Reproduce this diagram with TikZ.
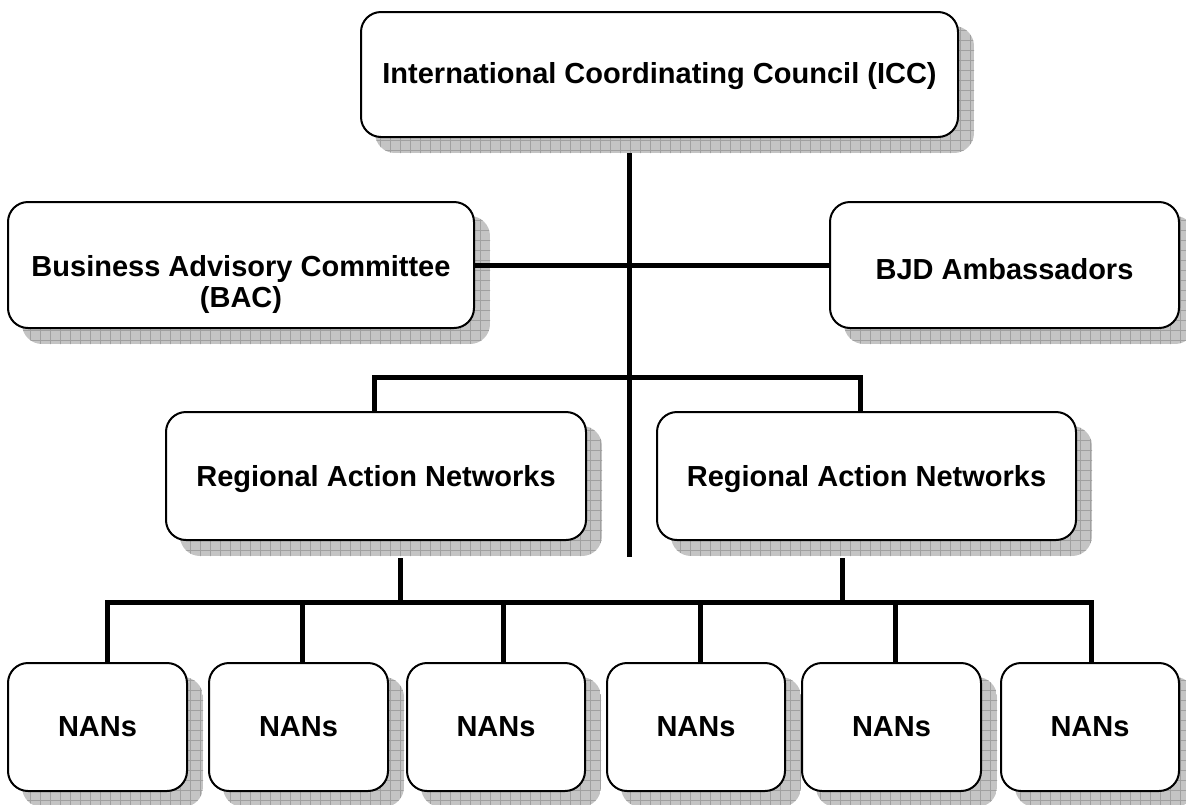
\documentclass[tikz,border=0pt]{standalone}
\usepackage{fontspec}
\setmainfont{Liberation Sans}
\pgfdeclarelayer{shadowlayer}
\pgfdeclarelayer{connlayer}
\pgfsetlayers{shadowlayer,connlayer,main}
\begin{document}
\begin{tikzpicture}[x=1pt,y=-1pt]
\tikzset{
  orgbox/.style={draw=black, line width=2pt, fill=white, rounded corners=20pt,
    inner sep=0pt, align=center, minimum height=127pt,
    font=\bfseries\fontsize{29}{31}\selectfont},
  conn/.style={line width=5pt, line join=miter},
  shadowfill/.style={fill={rgb,255:red,196;green,196;blue,196}},
  gridl/.style={draw={rgb,255:red,160;green,160;blue,160}, line width=0.6pt}
}
\useasboundingbox (0,0) rectangle (1186,804);

% nodes
\node[orgbox, minimum width=597pt, minimum height=125pt] (icc) at (659.5,74.5) {\raisebox{-2pt}[\height][\depth]{International Coordinating Council (ICC)}};
\node[orgbox, minimum width=466pt, minimum height=126pt] (bac) at (241,265) {\raisebox{-21pt}[\height][\depth]{\begin{tabular}{@{}c@{}}Business Advisory Committee\\(BAC)\end{tabular}}};
\node[orgbox, minimum width=349pt, minimum height=126pt] (bjd) at (1004.5,265) {\raisebox{-4pt}[\height][\depth]{BJD Ambassadors}};
\node[orgbox, minimum width=420pt, minimum height=128pt] (ran1) at (376,476) {\raisebox{-3pt}[\height][\depth]{Regional Action Networks}};
\node[orgbox, minimum width=419pt, minimum height=128pt] (ran2) at (866.5,476) {\raisebox{-3pt}[\height][\depth]{Regional Action Networks}};
\node[orgbox, minimum width=179pt, minimum height=128pt] (n1) at (97.5,727) {NANs};
\node[orgbox, minimum width=179pt, minimum height=128pt] (n2) at (298.5,727) {NANs};
\node[orgbox, minimum width=178pt, minimum height=128pt] (n3) at (496,727) {NANs};
\node[orgbox, minimum width=178pt, minimum height=128pt] (n4) at (696,727) {NANs};
\node[orgbox, minimum width=179pt, minimum height=128pt] (n5) at (891.5,727) {NANs};
\node[orgbox, minimum width=178pt, minimum height=128pt] (n6) at (1090,727) {NANs};

% shadows
\begin{pgfonlayer}{shadowlayer}
\foreach \b in {icc,bac,bjd,ran1,ran2,n1,n2,n3,n4,n5,n6}{
  \begin{scope}
    \clip[rounded corners=20pt] ([shift={(15pt,-15pt)}]\b.north west) rectangle ([shift={(15pt,-15pt)}]\b.south east);
    \fill[shadowfill] ([shift={(15pt,-15pt)}]\b.north west) rectangle ([shift={(15pt,-15pt)}]\b.south east);
    \draw[gridl, step=10pt] (\b.north west) grid ([shift={(20pt,-20pt)}]\b.south east);
  \end{scope}
}
\end{pgfonlayer}

% connectors
\begin{pgfonlayer}{connlayer}
\coordinate (tt) at (629,153);
\coordinate (tb) at (629,557);
\draw[conn] (tt) -- (tb);
\draw[conn] (bac.east) -- (bjd.west);
\coordinate (hl) at (374,377);
\coordinate (hr) at (860,377);
\draw[conn] (ran1.north -| hl) -- (hl) -- (hr) -- (ran2.north -| hr);
\coordinate (busl) at (107,602);
\coordinate (busr) at (1091,602);
\draw[conn] (n1.north -| busl) -- (busl) -- (busr) -- (n6.north -| busr);
\coordinate (d1) at (400,558);
\coordinate (d2) at (842,558);
\draw[conn] (d1) -- (d1 |- busl);
\draw[conn] (d2) -- (d2 |- busl);
\foreach \n/\x in {n2/302,n3/503,n4/700,n5/895}{
  \coordinate (bt) at (\x,602);
  \draw[conn] (bt) -- (bt |- \n.north);
}
\end{pgfonlayer}
\end{tikzpicture}
\end{document}
